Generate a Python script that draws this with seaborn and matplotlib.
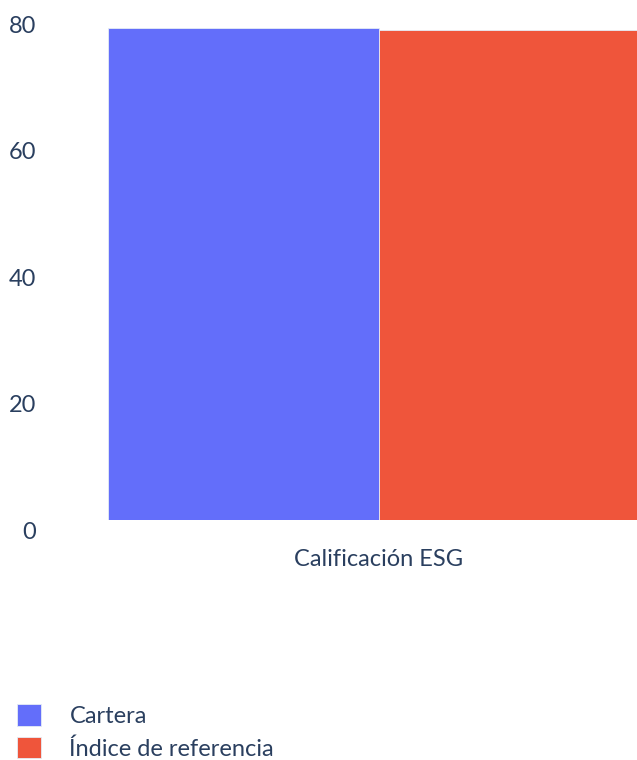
import matplotlib
matplotlib.use("Agg")
import matplotlib.pyplot as plt
from matplotlib.transforms import ScaledTranslation
import seaborn as sns
import pandas as pd

categories = ["Calificación ESG"]
series = ["Cartera", "Índice de referencia"]
values = [77.8, 77.4]
colors = ["#636EFA", "#EF553B"]
y_ticks = [0, 20, 40, 60, 80]

sns.set_theme(style="white")
plt.rcParams["font.family"] = ["Lato", "DejaVu Sans"]
text_color = "#2A3F5F"

df = pd.DataFrame({
    "category": categories * len(series),
    "series": series,
    "value": values,
})

W, H, DPI = 637, 760, 100
fig = plt.figure(figsize=(W / DPI, H / DPI), dpi=DPI)
# plot area: x from 40 px to 717 px (runs past the right edge), y from 2 to 520 px
ax = fig.add_axes([40 / W, (H - 520) / H, 677 / W, 518 / H])

sns.barplot(data=df, x="category", y="value", hue="series", palette=colors,
            width=0.8, edgecolor="#E5ECF6", linewidth=0.6, saturation=1,
            ax=ax, errorbar=None)

ax.set_xlim(-0.5, 0.5)
ax.set_ylim(0, 81.9)
ax.set_yticks(y_ticks)
ax.set_yticklabels([str(t) for t in y_ticks])
ax.set_xlabel("")
ax.set_ylabel("")
for s in ax.spines.values():
    s.set_visible(False)
ax.grid(False)
ax.tick_params(axis="both", length=0, labelsize=17, labelcolor=text_color)
ax.tick_params(axis="y", pad=3)
ax.tick_params(axis="x", pad=21)
shift = ScaledTranslation(0, -7.5 / 72, fig.dpi_scale_trans)
for lab in ax.get_yticklabels():
    lab.set_transform(lab.get_transform() + shift)

handles, labels = ax.get_legend_handles_labels()
ax.get_legend().remove()
leg = fig.legend(handles, labels, loc="upper left",
                 bbox_to_anchor=(8 / W, 1 - 695 / H), frameon=False,
                 fontsize=17, handlelength=1.0, handleheight=1.0,
                 handletextpad=1.2, labelspacing=0.42, borderaxespad=0)
for t in leg.get_texts():
    t.set_color(text_color)

fig.savefig("out.png", dpi=DPI)
